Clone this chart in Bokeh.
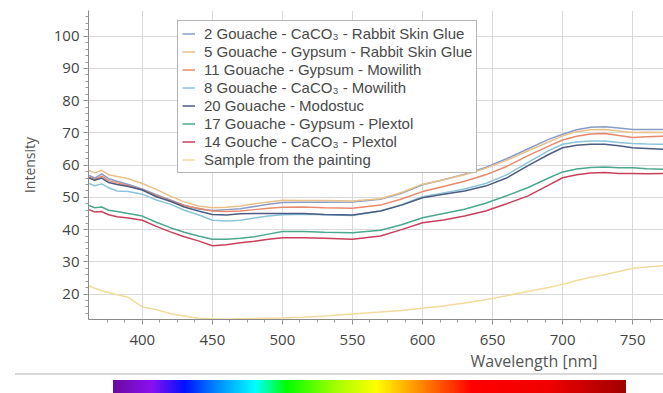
import numpy as np
from bokeh.plotting import figure
from bokeh.models import Range1d, Legend, LegendItem, Title, FixedTicker, Div
from bokeh.layouts import column
from bokeh.embed import file_html
from bokeh.resources import INLINE

# ---------------- data ----------------
wavelength = [362, 366, 371, 376, 382, 390, 400, 410, 420, 430, 440, 450, 460, 470, 480, 490,
              500, 515, 530, 550, 570, 585, 600, 615, 630, 645, 660, 675, 690, 700, 710, 720,
              730, 740, 750, 760, 772]

s2_caco3_rsg = [56.8, 56.0, 57.3, 55.8, 55.0, 54.0, 52.6, 50.8, 49.2, 47.6, 46.4, 45.9, 46.2, 46.5, 47.2, 47.9,
                48.4, 48.5, 48.5, 48.6, 49.4, 51.3, 53.9, 55.5, 57.2, 59.3, 62.0, 65.0, 68.0, 69.6, 71.0, 71.8,
                71.9, 71.5, 71.1, 71.1, 71.1]
s5_gypsum_rsg = [58.4, 57.6, 58.4, 57.0, 56.5, 55.8, 54.3, 52.5, 50.4, 48.6, 47.3, 46.8, 46.9, 47.3, 48.0, 48.6,
                 49.1, 49.0, 49.0, 48.9, 49.6, 51.5, 54.1, 55.5, 57.0, 59.0, 61.5, 64.4, 67.2, 69.1, 70.4, 71.0,
                 71.1, 70.6, 70.1, 70.2, 70.1]
s11_gypsum_mow = [56.3, 55.6, 56.6, 55.2, 54.5, 53.6, 52.4, 50.5, 48.9, 47.4, 46.6, 45.8, 45.6, 45.8, 46.2, 46.6,
                  46.9, 47.0, 46.8, 46.6, 47.6, 49.5, 51.8, 53.4, 55.0, 57.0, 59.6, 62.9, 65.9, 67.8, 69.0, 69.7,
                  69.8, 69.2, 68.6, 68.8, 69.0]
s8_caco3_mow = [54.3, 53.6, 54.2, 53.0, 52.0, 51.8, 51.0, 49.2, 47.9, 46.0, 44.6, 42.9, 42.7, 42.9, 43.6, 44.2,
                44.6, 44.8, 44.6, 44.4, 45.8, 47.7, 50.2, 51.4, 52.6, 54.3, 57.0, 60.8, 64.5, 66.5, 67.2, 67.5,
                67.5, 67.0, 66.7, 66.6, 66.5]
s20_modostuc = [56.0, 55.3, 56.0, 54.6, 54.0, 53.4, 52.3, 50.2, 48.8, 47.0, 45.8, 44.7, 44.5, 44.9, 45.0, 45.0,
                45.0, 45.0, 44.7, 44.5, 45.8, 47.6, 49.9, 51.0, 52.0, 53.5, 56.0, 59.8, 63.3, 65.4, 66.2, 66.5,
                66.5, 66.0, 65.4, 65.2, 64.9]
s17_gypsum_plex = [47.5, 46.8, 47.0, 46.0, 45.6, 45.0, 44.2, 42.3, 40.6, 39.2, 38.0, 37.0, 37.0, 37.3, 37.8, 38.6,
                   39.4, 39.4, 39.2, 39.0, 39.8, 41.5, 43.7, 45.0, 46.3, 48.2, 50.5, 53.0, 56.0, 57.9, 58.8, 59.3,
                   59.4, 59.2, 59.2, 58.9, 58.7]
s14_caco3_plex = [46.2, 45.5, 45.6, 44.6, 44.0, 43.6, 42.9, 41.0, 39.3, 37.8, 36.5, 35.0, 35.3, 35.9, 36.4, 37.0,
                  37.5, 37.5, 37.3, 37.0, 38.0, 40.0, 42.1, 43.0, 44.2, 45.8, 48.0, 50.4, 53.8, 56.1, 57.0, 57.6,
                  57.7, 57.4, 57.4, 57.3, 57.4]
sample_painting = [22.5, 21.8, 21.0, 20.5, 19.8, 19.0, 16.0, 15.2, 13.9, 13.2, 12.5, 12.3, 12.2, 12.3, 12.4, 12.5,
                   12.6, 12.8, 13.2, 13.8, 14.4, 14.9, 15.6, 16.3, 17.2, 18.2, 19.5, 20.8, 22.0, 23.0, 24.2, 25.2,
                   26.0, 27.0, 28.0, 28.4, 28.8]

labels = [
    "2 Gouache - CaCO\u2083 - Rabbit Skin Glue",
    "5 Gouache - Gypsum - Rabbit Skin Glue",
    "11 Gouache - Gypsum - Mowilith",
    "8 Gouache - CaCO\u2083 - Mowilith",
    "20 Gouache - Modostuc",
    "17 Gouache - Gypsum - Plextol",
    "14 Gouche - CaCO\u2083 - Plextol",
    "Sample from the painting",
]
series = [s2_caco3_rsg, s5_gypsum_rsg, s11_gypsum_mow, s8_caco3_mow, s20_modostuc,
          s17_gypsum_plex, s14_caco3_plex, sample_painting]
colors = ["#8a9cc6", "#e8c08a", "#e8886c", "#8ac4d8", "#4c5c82", "#4aa88e", "#c8405c", "#f0dc9c"]

x_ticks = [400, 450, 500, 550, 600, 650, 700, 750]
y_ticks = [20, 30, 40, 50, 60, 70, 80, 90, 100]

# spectrum colour stops (percent along the bar, colour)
spec_pos = [0.0, 7.5, 14.0, 19.7, 27.8, 33.8, 43.2, 51.3, 59.4, 70.0, 85.0, 100.0]
spec_col = ["#6a0aa0", "#8a10f0", "#0010ff", "#0080ff", "#00ffff", "#00ff00", "#a0ff00",
            "#ffff00", "#ff9000", "#ff0000", "#f00000", "#a00000"]

FONT = "Open Sans"

# ---------------- main chart ----------------
p = figure(width=663, height=373, output_backend="svg", toolbar_location=None,
           x_range=Range1d(361.6, 772), y_range=Range1d(12.1, 108),
           min_border_left=88, min_border_right=0, min_border_top=10, min_border_bottom=54)
p.outline_line_color = None
p.background_fill_color = "white"
p.border_fill_color = "white"

renderers = []
for s, c in zip(series, colors):
    r = p.line(wavelength, s, line_color=c, line_width=1.5)
    renderers.append(r)

for ax in (p.xaxis[0], p.yaxis[0]):
    ax.axis_line_color = "#8a8a8a"
    ax.major_tick_line_color = "#8a8a8a"
    ax.minor_tick_line_color = "#9a9a9a"
    ax.major_tick_out = 5
    ax.major_tick_in = 0
    ax.minor_tick_out = 3
    ax.minor_tick_in = 0
    ax.major_label_text_font = FONT
    ax.major_label_text_font_size = "15px"
    ax.major_label_text_color = "#444444"
    ax.major_label_standoff = 4
p.xaxis[0].major_label_standoff = 10

p.xaxis[0].ticker = FixedTicker(ticks=x_ticks, minor_ticks=list(np.arange(375, 775, 12.5)))
p.yaxis[0].ticker = FixedTicker(ticks=y_ticks, minor_ticks=list(np.arange(14, 108, 2)))

p.yaxis[0].axis_label = "Intensity"
p.yaxis[0].axis_label_text_font = FONT
p.yaxis[0].axis_label_text_font_size = "14px"
p.yaxis[0].axis_label_text_font_style = "normal"
p.yaxis[0].axis_label_text_color = "#555555"
p.yaxis[0].axis_label_standoff = 12

p.xgrid[0].ticker = p.xaxis[0].ticker
p.ygrid[0].ticker = p.yaxis[0].ticker
p.xgrid.grid_line_color = "#d9d9d9"
p.ygrid.grid_line_color = "#d9d9d9"

xt = Title(text="Wavelength [nm]", align="right", offset=66, standoff=0,
           text_font=FONT, text_font_size="16px", text_font_style="normal", text_color="#555555")
p.add_layout(xt, "below")

legend = Legend(items=[LegendItem(label=l, renderers=[r]) for l, r in zip(labels, renderers)],
                location=(89, 146))
legend.label_text_font = "Liberation Sans"
legend.label_text_font_size = "15px"
legend.label_text_color = "#4a4a4a"
legend.border_line_color = "#6a6a6a"
legend.border_line_width = 1
legend.background_fill_color = "white"
legend.background_fill_alpha = 1.0
legend.padding = 4
legend.spacing = 1
legend.glyph_width = 13
legend.glyph_height = 17
legend.label_height = 17
legend.label_standoff = 9
legend.margin = 0
p.add_layout(legend, "center")

# ---------------- spectrum bar (HTML strip under the chart) ----------------
stops = ", ".join(f"{c} {q}%" for c, q in zip(spec_col, spec_pos))
bar_html = (
    '<div style="position:relative;width:663px;height:20px;background:white;overflow:hidden;">'
    '<div style="position:absolute;left:15px;right:0;top:0px;height:2px;background:#d8d8d8;"></div>'
    f'<div style="position:absolute;left:113px;width:513px;top:7px;height:14px;'
    f'background:linear-gradient(to right, {stops});"></div>'
    '</div>'
)
strip = Div(text=bar_html, width=663, height=20, margin=(0, 0, 0, 0))

layout = column(p, strip, spacing=0)
open("out.html", "w").write(file_html(layout, INLINE))
